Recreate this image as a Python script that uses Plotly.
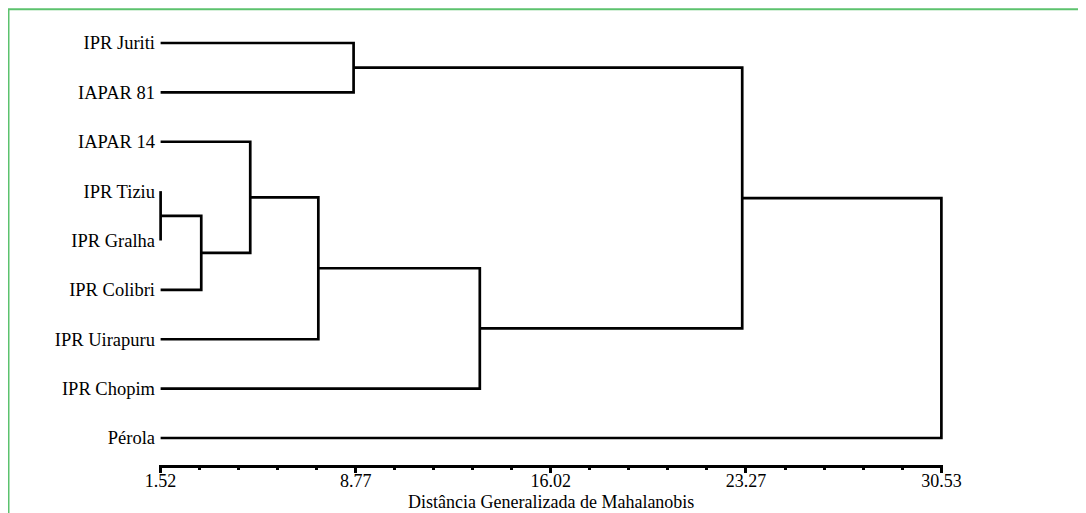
import plotly.graph_objects as go

# ---- data ----
leaves = ["IPR Juriti", "IAPAR 81", "IAPAR 14", "IPR Tiziu", "IPR Gralha",
          "IPR Colibri", "IPR Uirapuru", "IPR Chopim", "Pérola"]
# merges: (left node, right node, distance); nodes 0..8 are leaves, new nodes from 9
merge_left = [3, 9, 2, 11, 12, 0, 14, 15]
merge_right = [4, 5, 10, 6, 7, 1, 13, 8]
merge_dist = [1.52, 3.03, 4.85, 7.38, 13.38, 8.69, 23.13, 30.53]
tick_vals = [1.52, 8.77, 16.02, 23.27, 30.53]
tick_text = ["1.52", "8.77", "16.02", "23.27", "30.53"]
x_title = "Distância Generalizada de Mahalanobis"

# ---- build dendrogram segments ----
base = tick_vals[0]
pos = {i: float(i) for i in range(len(leaves))}
height = {i: base for i in range(len(leaves))}
xs, ys = [], []
for k, (a, b, d) in enumerate(zip(merge_left, merge_right, merge_dist)):
    node = len(leaves) + k
    xs += [height[a], d, d, height[b], None]
    ys += [pos[a], pos[a], pos[b], pos[b], None]
    pos[node] = (pos[a] + pos[b]) / 2
    height[node] = d

FONT = "Liberation Serif, Times New Roman, serif"
FS = 18.5
OFF = 8  # page body margin
FW, FH = 1086 - OFF, 513 - OFF

fig = go.Figure()
fig.add_trace(go.Scatter(x=xs, y=ys, mode="lines",
                         line=dict(color="black", width=2.7),
                         hoverinfo="skip", showlegend=False))

# page-pixel geometry of plot area
PL, PR, PT, PB = 159, 943, 20, 465
L, R, T, B = PL - OFF, FW - (PR - OFF), PT - OFF, FH - (PB - OFF)
W = FW - L - R
H = FH - T - B
fig.update_layout(
    width=FW, height=FH,
    margin=dict(l=L, r=R, t=T, b=B),
    paper_bgcolor="white", plot_bgcolor="white",
    font=dict(family=FONT, size=FS, color="black"),
    showlegend=False,
)
fig.update_xaxes(range=[1.46, 30.59], tickvals=tick_vals, ticktext=tick_text,
                 ticks="outside", ticklen=5, tickwidth=2.5, tickcolor="black",
                 showline=True, linewidth=2.5, linecolor="black",
                 showgrid=False, zeroline=False, ticklabelstandoff=-7,
                 tickfont=dict(family=FONT, size=18, color="black"),
                 minor=dict(tick0=1.52, dtick=1.45, ticks="outside", ticklen=2,
                            tickwidth=2.5, tickcolor="black", showgrid=False))
fig.update_yaxes(range=[8 + (PB - 438) / 49.375, -(43 - PT) / 49.375],
                 tickvals=list(range(len(leaves))),
                 ticktext=leaves, ticks="", showline=False, showgrid=False,
                 zeroline=False, ticklabelstandoff=3,
                 tickfont=dict(family=FONT, size=FS, color="black"))

fig.add_annotation(text=x_title, xref="paper", yref="paper",
                   x=0.5, y=(PB - 502) / H, xanchor="center", yanchor="middle",
                   showarrow=False, font=dict(family=FONT, size=18, color="black"))

# green frame
fig.add_shape(type="rect", xref="paper", yref="paper",
              x0=(OFF - PL) / W + 0.5 / W, x1=(1300 - PL) / W,
              y0=(PB - 800) / H, y1=(PB - 9.3) / H,
              line=dict(color="#5cc26e", width=2), fillcolor="rgba(0,0,0,0)", layer="below")

fig.write_html("out.html")
